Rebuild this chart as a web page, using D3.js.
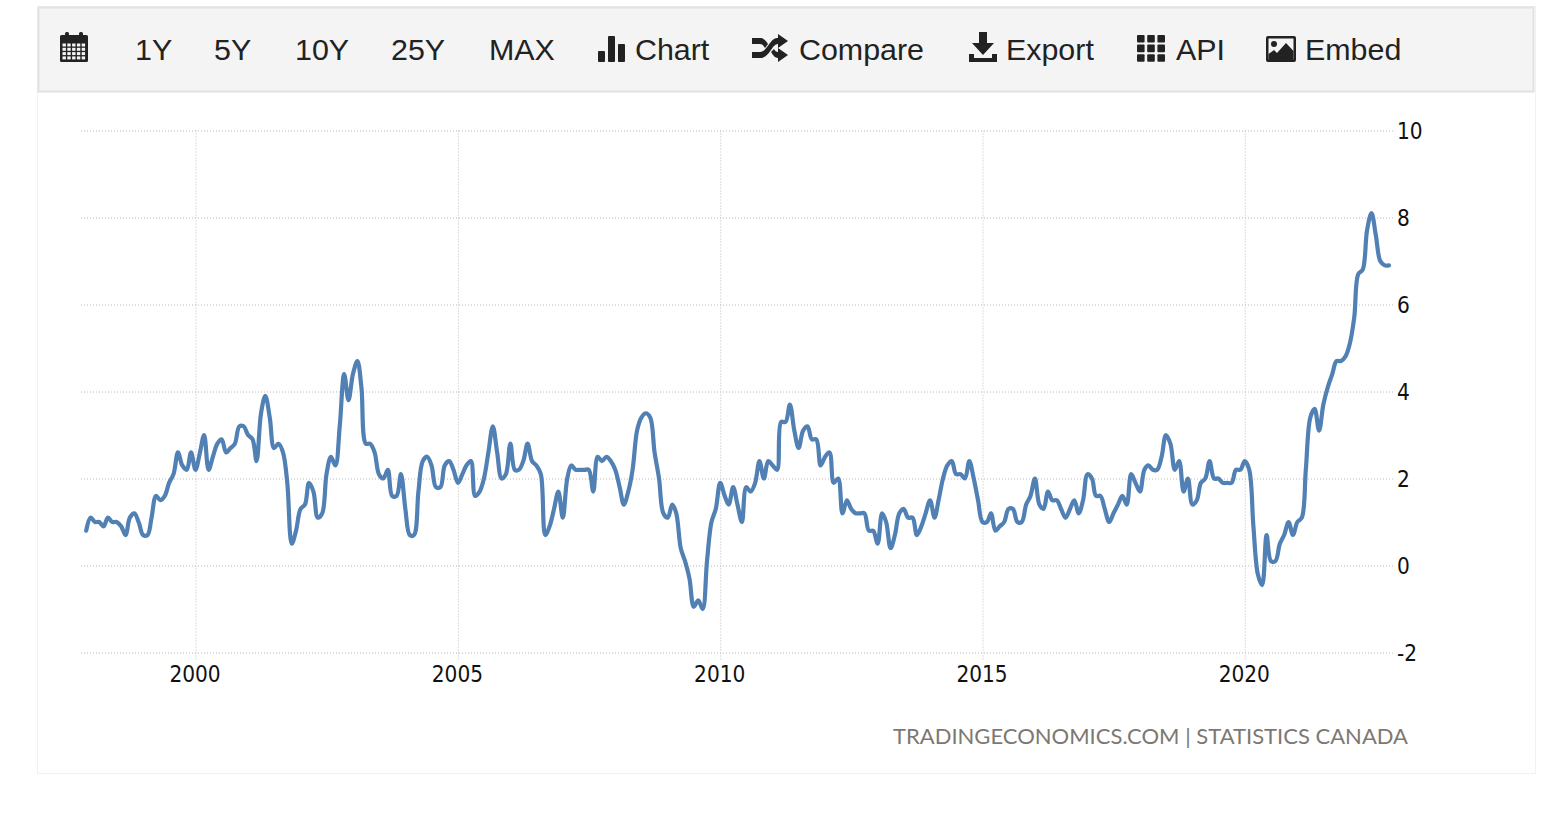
<!DOCTYPE html>
<html>
<head>
<meta charset="utf-8">
<script src="https://cdn.jsdelivr.net/npm/d3@7"></script>
<style>
  html, body { margin: 0; padding: 0; background: #fff; overflow: hidden; }
  svg { display: block; }
  .axisLabel { font-family: "DejaVu Sans"; font-stretch: condensed; font-size: 22.4px; fill: #111; }
  .btn { font-family: "Liberation Sans"; font-size: 30.4px; fill: #222; }
</style>
</head>
<body>
<div id="chart"></div>
<script>
// monthly inflation rate
var cpi1997 = [0.8];
var cpi1998 = [1.1, 1.0, 1.0, 0.9, 1.1, 1.0, 1.0, 0.9, 0.7, 1.1, 1.2, 1.0];
var cpi1999 = [0.7, 0.7, 1.1, 1.6, 1.5, 1.6, 1.9, 2.1, 2.6, 2.3, 2.2, 2.6];
var cpi2000 = [2.2, 2.6, 3.0, 2.2, 2.5, 2.8, 2.9, 2.6, 2.7, 2.8, 3.2, 3.2];
var cpi2001 = [3.0, 2.9, 2.4, 3.5, 3.9, 3.4, 2.7, 2.8, 2.6, 1.9, 0.5, 0.8];
var cpi2002 = [1.3, 1.4, 1.9, 1.7, 1.1, 1.2, 2.1, 2.5, 2.3, 3.2, 4.4, 3.8];
var cpi2003 = [4.4, 4.7, 4.1, 2.8, 2.8, 2.6, 2.1, 2.0, 2.2, 1.6, 1.6, 2.1];
var cpi2004 = [1.3, 0.7, 0.7, 1.7, 2.4, 2.5, 2.3, 1.8, 1.8, 2.3, 2.4, 2.2];
var cpi2005 = [1.9, 2.1, 2.3, 2.4, 1.6, 1.7, 2.0, 2.6, 3.2, 2.6, 2.0, 2.1];
var cpi2006 = [2.8, 2.2, 2.2, 2.4, 2.8, 2.4, 2.3, 2.1, 0.7, 0.9, 1.3, 1.7];
var cpi2007 = [1.1, 2.0, 2.3, 2.2, 2.2, 2.2, 2.2, 1.7, 2.5, 2.4, 2.5, 2.4];
var cpi2008 = [2.2, 1.8, 1.4, 1.7, 2.2, 3.1, 3.4, 3.5, 3.4, 2.6, 2.0, 1.2];
var cpi2009 = [1.1, 1.4, 1.2, 0.4, 0.1, -0.3, -0.95, -0.8, -1.0, 0.1, 1.0, 1.3];
var cpi2010 = [1.9, 1.6, 1.4, 1.8, 1.4, 1.0, 1.8, 1.7, 1.9, 2.4, 2.0, 2.4];
var cpi2011 = [2.3, 2.2, 3.3, 3.3, 3.7, 3.1, 2.7, 3.1, 3.2, 2.9, 2.9, 2.3];
var cpi2012 = [2.5, 2.6, 1.9, 2.0, 1.2, 1.5, 1.3, 1.2, 1.2, 1.2, 0.8, 0.8];
var cpi2013 = [0.5, 1.2, 1.0, 0.4, 0.7, 1.2, 1.3, 1.1, 1.1, 0.7, 0.9, 1.2];
var cpi2014 = [1.5, 1.1, 1.5, 2.0, 2.3, 2.4, 2.1, 2.1, 2.0, 2.4, 2.0, 1.5];
var cpi2015 = [1.0, 1.0, 1.2, 0.8, 0.9, 1.0, 1.3, 1.3, 1.0, 1.0, 1.4, 1.6];
var cpi2016 = [2.0, 1.4, 1.3, 1.7, 1.5, 1.5, 1.3, 1.1, 1.3, 1.5, 1.2, 1.5];
var cpi2017 = [2.1, 2.0, 1.6, 1.6, 1.3, 1.0, 1.2, 1.4, 1.6, 1.4, 2.1, 1.9];
var cpi2018 = [1.7, 2.2, 2.3, 2.2, 2.2, 2.5, 3.0, 2.8, 2.2, 2.4, 1.7, 2.0];
var cpi2019 = [1.4, 1.5, 1.9, 2.0, 2.4, 2.0, 2.0, 1.9, 1.9, 1.9, 2.2, 2.2];
var cpi2020 = [2.4, 2.2, 0.9, -0.2, -0.45, 0.7, 0.1, 0.1, 0.5, 0.7, 1.0, 0.7];
var cpi2021 = [1.0, 1.1, 2.2, 3.4, 3.6, 3.1, 3.7, 4.1, 4.4, 4.7, 4.7, 4.8];
var cpi2022 = [5.1, 5.7, 6.7, 6.8, 7.7, 8.1, 7.6, 7.0, 6.9, 6.9];

var yTicks = [-2, 0, 2, 4, 6, 8, 10];
var xTickYears = [2000, 2005, 2010, 2015, 2020];
var toolbarLabels = ["1Y", "5Y", "10Y", "25Y", "MAX", "Chart", "Compare", "Export", "API", "Embed"];
var toolbarX = [135, 214, 295, 391, 489, 635, 799, 1006, 1176, 1305];
var sourceText = "TRADINGECONOMICS.COM | STATISTICS CANADA";

var rates = [].concat(cpi1997, cpi1998, cpi1999, cpi2000, cpi2001, cpi2002, cpi2003, cpi2004,
    cpi2005, cpi2006, cpi2007, cpi2008, cpi2009, cpi2010, cpi2011, cpi2012, cpi2013, cpi2014,
    cpi2015, cpi2016, cpi2017, cpi2018, cpi2019, cpi2020, cpi2021, cpi2022);
var months = d3.timeMonth.range(new Date(1997, 11, 1), new Date(2022, 10, 1));
var series = months.map(function (m, i) { return { date: m, value: rates[i] }; });

var svg = d3.select("#chart")
    .append("svg")
    .attr("width", 1554)
    .attr("height", 818);

// panel + toolbar
svg.append("rect")
    .attr("x", 37.5).attr("y", 6.5).attr("width", 1498).attr("height", 767)
    .attr("fill", "#fff").attr("stroke", "#f1f1f1");
svg.append("rect")
    .attr("x", 38.5).attr("y", 7.5).attr("width", 1495).attr("height", 84)
    .attr("fill", "#f4f4f4").attr("stroke", "#e2e2e2").attr("stroke-width", 2);

svg.selectAll(".btn")
    .data(toolbarLabels)
    .enter()
    .append("text")
    .attr("class", "btn")
    .attr("x", function (d, i) { return toolbarX[i]; })
    .attr("y", 59.5)
    .text(function (d) { return d; });

// icons, hand drawn since the icon font is not there
var icons = svg.append("g").attr("fill", "#222");

// calendar
var cal = icons.append("g").attr("transform", "translate(60,32)");
cal.append("rect").attr("x", 0).attr("y", 3).attr("width", 28).attr("height", 27).attr("rx", 1.5);
cal.append("rect").attr("x", 5).attr("y", 0).attr("width", 4).attr("height", 6).attr("rx", 1.5);
cal.append("rect").attr("x", 19).attr("y", 0).attr("width", 4).attr("height", 6).attr("rx", 1.5);
d3.range(4).forEach(function (r) {
    d3.range(5).forEach(function (c) {
        cal.append("rect").attr("x", 2.5 + c * 4.8).attr("y", 11.5 + r * 4.3)
            .attr("width", 3.4).attr("height", 3).attr("fill", "#f4f4f4");
    });
});

// bars
var bars = icons.append("g").attr("transform", "translate(598,36)");
bars.append("rect").attr("x", 0).attr("y", 15).attr("width", 7).attr("height", 11).attr("rx", 1);
bars.append("rect").attr("x", 10).attr("y", 0).attr("width", 7).attr("height", 26).attr("rx", 1);
bars.append("rect").attr("x", 20).attr("y", 8).attr("width", 7).attr("height", 18).attr("rx", 1);

// shuffle
icons.append("path")
    .attr("transform", "translate(752,35)")
    .attr("d", "M0,3H8C12,3 14,6 16,9L13,13C11,10 10,9 8,9H0Z" +
        "M0,17H8C12,17 14,13 18,8C21,4 23,3 26,3V-1L36,6L26,13V9C24,9 23,10 21,12C17,18 14,23 8,23H0Z" +
        "M19,17L22,14C23,16 24,17 26,17V13L36,20L26,27V23C23,23 21,20 19,17Z");

// download
icons.append("path")
    .attr("transform", "translate(969,32)")
    .attr("d", "M10,0H18V11H25L14,23L3,11H10Z M0,22H5V26H23V22H28V30H0Z");

// grid
var grid = icons.append("g").attr("transform", "translate(1137,35)");
d3.range(3).forEach(function (r) {
    d3.range(3).forEach(function (c) {
        grid.append("rect").attr("x", c * 10.2).attr("y", r * 9.6)
            .attr("width", 7.6).attr("height", 7.6).attr("rx", 1);
    });
});

// image
var img = icons.append("g").attr("transform", "translate(1266,36)");
img.append("rect").attr("width", 30).attr("height", 26).attr("rx", 2);
img.append("rect").attr("x", 2.5).attr("y", 2.5).attr("width", 25).attr("height", 21).attr("fill", "#f4f4f4");
img.append("circle").attr("cx", 8).attr("cy", 8).attr("r", 3);
img.append("path").attr("d", "M2.5,24V18L8,14L11,17L20,7L27.5,15V24Z");

// scales
var x = d3.scaleTime()
    .domain([months[0], months[months.length - 1]])
    .range([86.2, 1389]);
var y = d3.scaleLinear()
    .domain([-2, 10])
    .range([652.5, 130.5]);

// x axis with the vertical grid lines
var xAxis = svg.append("g")
    .attr("transform", "translate(0,652.5)")
    .call(d3.axisBottom(x)
        .tickValues(xTickYears.map(function (d) { return new Date(d, 0, 1); }))
        .tickFormat(d3.timeFormat("%Y"))
        .tickSizeInner(-522)
        .tickSizeOuter(0)
        .tickPadding(14));
xAxis.select(".domain").remove();
xAxis.selectAll("line")
    .attr("y2", 8).attr("y1", -522)
    .attr("stroke", "#bdbdbd").attr("stroke-dasharray", "1,2");
xAxis.selectAll("text").attr("class", "axisLabel").attr("dy", null).attr("y", 29).attr("x", -1);

// y axis with the horizontal grid lines
var yAxis = svg.append("g")
    .attr("transform", "translate(1396,0)")
    .call(d3.axisRight(y)
        .tickValues(yTicks)
        .tickFormat(function (d) { return String(d); })
        .tickSizeInner(0)
        .tickSizeOuter(0)
        .tickPadding(1));
yAxis.select(".domain").remove();
yAxis.selectAll("line")
    .attr("x1", -1315).attr("x2", -3)
    .attr("stroke", "#b8b8b8").attr("stroke-dasharray", "1,2");
yAxis.selectAll("text").attr("class", "axisLabel").attr("dy", "0.36em").attr("x", 1);

// the line
var line = d3.line()
    .x(function (d) { return x(d.date); })
    .y(function (d) { return y(d.value); })
    .curve(d3.curveCatmullRom.alpha(0.5));

svg.append("path")
    .datum(series)
    .attr("fill", "none")
    .attr("stroke", "#5180b5")
    .attr("stroke-width", 4.2)
    .attr("stroke-linecap", "round")
    .attr("stroke-linejoin", "round")
    .attr("d", line);

// source
svg.append("text")
    .attr("x", 1408)
    .attr("y", 744)
    .attr("text-anchor", "end")
    .attr("font-family", "Lato")
    .attr("font-size", 22)
    .attr("fill", "#7d7871")
    .text(sourceText);
</script>
</body>
</html>
